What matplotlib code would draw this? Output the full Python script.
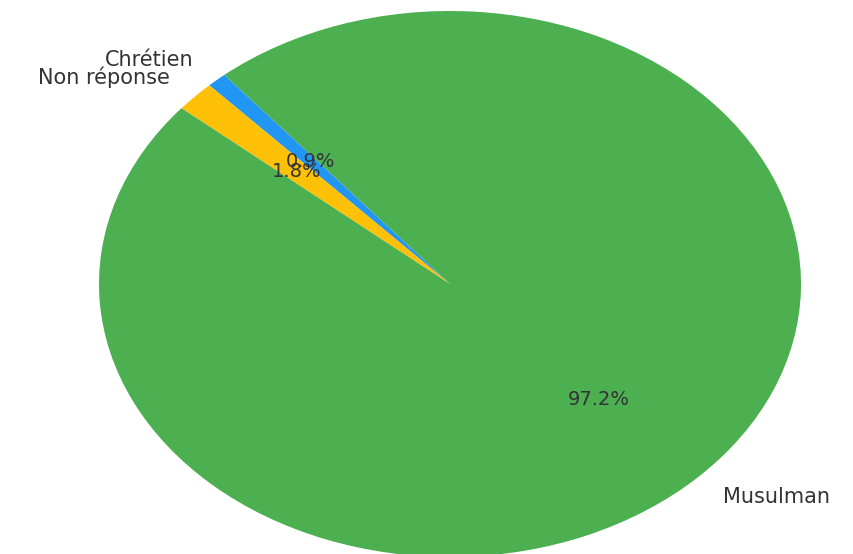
import matplotlib
matplotlib.use("Agg")
import matplotlib.pyplot as plt

labels = ["Chrétien", "Non réponse", "Musulman"]
counts = [1, 2, 106]
colors = ["#2196F3", "#FFC107", "#4CAF50"]

W, H = 854, 554
fig = plt.figure(figsize=(W / 100, H / 100), dpi=100)
ax = fig.add_axes([0, 0, 1, 1])
wedges, texts, autotexts = ax.pie(
    counts, labels=labels, colors=colors, startangle=130,
    autopct="%1.1f%%", pctdistance=0.6, labeldistance=1.1,
    textprops={"fontsize": 15, "color": "#333333"},
)
for t in autotexts:
    t.set_fontsize(14)
ax.set_aspect("auto")
cx, cy = 450, 270
rx, ry = 351, 273
ax.set_xlim(-cx / rx, (W - cx) / rx)
ax.set_ylim(-cy / ry, (H - cy) / ry)
ax.axis("off")
fig.savefig("out.png", dpi=100)
